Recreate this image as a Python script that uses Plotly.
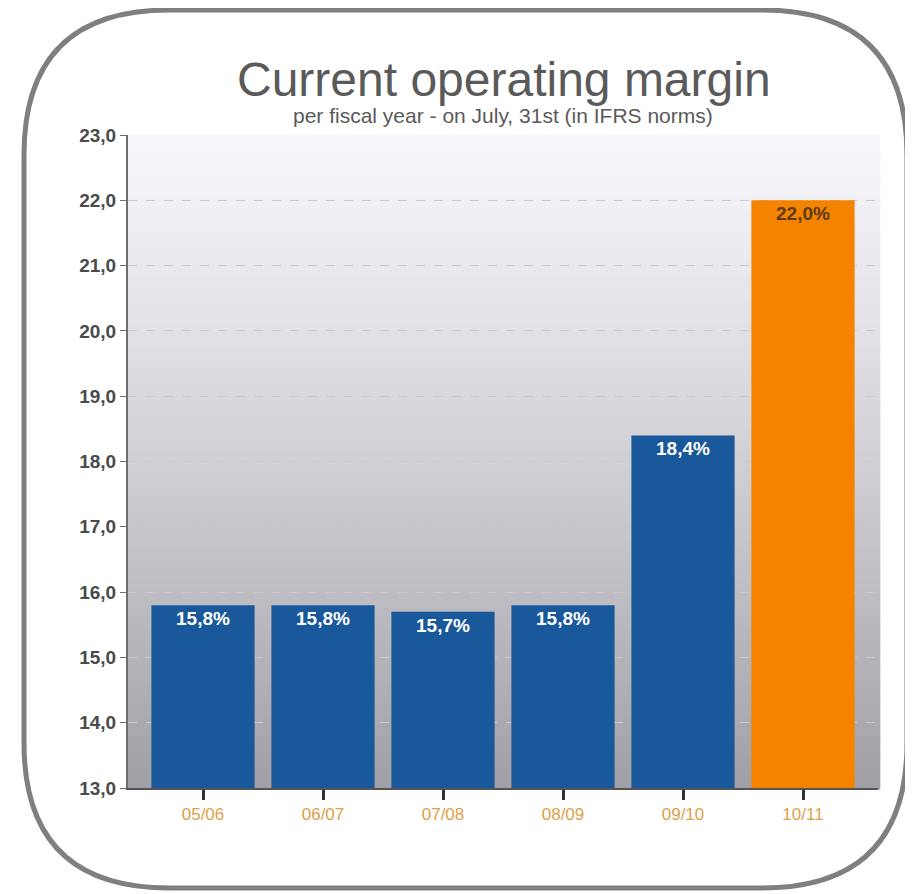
import plotly.graph_objects as go

categories = ["05/06", "06/07", "07/08", "08/09", "09/10", "10/11"]
values = [15.8, 15.8, 15.7, 15.8, 18.4, 22.0]
labels = ["15,8%", "15,8%", "15,7%", "15,8%", "18,4%", "22,0%"]
bar_colors = ["#19589A", "#19589A", "#19589A", "#19589A", "#19589A", "#F58300"]
text_colors = ["#FFFFFF", "#FFFFFF", "#FFFFFF", "#FFFFFF", "#FFFFFF", "#5A3A12"]
y_ticks = [13, 14, 15, 16, 17, 18, 19, 20, 21, 22, 23]

OFF = 8  # page body margin
W, H = 913 - OFF, 894 - OFF
L, R, T, B = 128 - OFF, 35, 135 - OFF, 106
pw, ph = W - L - R, H - T - B

def px(x):
    return (x - OFF - L) / pw

def py(y):
    return 1 - (y - OFF - T) / ph

fig = go.Figure()
fig.add_trace(go.Bar(
    x=categories, y=values, width=0.86,
    marker=dict(color=bar_colors, line=dict(width=0)),
    text=labels, textposition="inside", insidetextanchor="end",
    textfont=dict(color=text_colors, size=19, family="Liberation Sans, Arial", weight="bold"),
    textangle=0, hoverinfo="skip",
))

shapes = []
n = 200
top = (246, 246, 251)
bot = (160, 160, 166)
for i in range(n):
    f = i / (n - 1)
    f2 = f ** 1.15
    c = tuple(int(round(top[k] + (bot[k] - top[k]) * f2)) for k in range(3))
    shapes.append(dict(type="rect", xref="x domain", yref="y domain",
                       x0=0, x1=1.003, y0=1 - (i + 1.5) / n, y1=1 - i / n,
                       fillcolor="rgb(%d,%d,%d)" % c, line=dict(width=0), layer="below"))

# rounded frame
x0, x1 = px(24), px(907)
y0, y1 = py(10), py(888)
rx = 145 / pw
ry = 145 / ph
path = (f"M {x0+rx},{y0} L {x1-rx},{y0} Q {x1},{y0} {x1},{y0-ry} "
        f"L {x1},{y1+ry} Q {x1},{y1} {x1-rx},{y1} L {x0+rx},{y1} "
        f"Q {x0},{y1} {x0},{y1+ry} L {x0},{y0-ry} Q {x0},{y0} {x0+rx},{y0} Z")
shapes.append(dict(type="path", xref="paper", yref="paper", path=path,
                   line=dict(color="#7F7F7F", width=5), layer="above"))

fig.update_layout(
    width=W, height=H,
    margin=dict(l=L, r=R, t=T, b=B),
    paper_bgcolor="white", plot_bgcolor="white",
    separators=",.",
    showlegend=False,
    shapes=shapes,
    font=dict(family="Liberation Sans, Arial", color="#555555"),
    annotations=[
        dict(text="Current operating margin", xref="paper", yref="paper",
             x=px(504), y=py(79), xanchor="center", yanchor="middle", showarrow=False,
             font=dict(size=48, color="#5A5A5A", family="Liberation Sans, Arial")),
        dict(text="per fiscal year - on July, 31st (in IFRS norms)", xref="paper", yref="paper",
             x=px(503), y=py(115), xanchor="center", yanchor="middle", showarrow=False,
             font=dict(size=21, color="#5A5A5A", family="Liberation Sans, Arial")),
    ],
)
fig.update_yaxes(
    range=[13, 23], tickvals=y_ticks,
    ticktext=[f"{t},0" for t in y_ticks],
    showline=True, linecolor="#6E6E6E", linewidth=2,
    ticks="outside", ticklen=6, tickwidth=1, tickcolor="#6E6E6E",
    showgrid=True, gridcolor="#C9C9CF", griddash="dash", gridwidth=1,
    zeroline=False,
    tickfont=dict(size=19, color="#4A4A4A", family="Liberation Sans, Arial", weight="bold"),
)
fig.update_xaxes(
    range=[-0.625, 5.625],
    showline=True, linecolor="#555555", linewidth=2,
    ticks="outside", ticklen=10, tickwidth=3, tickcolor="#333333",
    tickfont=dict(size=17, color="#E0A048", family="Liberation Sans, Arial"),
    showgrid=False,
)
fig.write_html("out.html")
